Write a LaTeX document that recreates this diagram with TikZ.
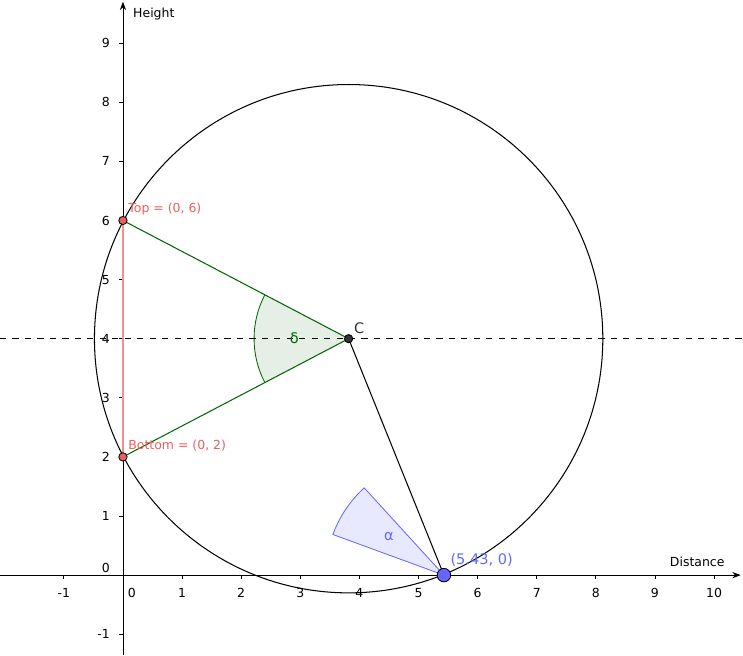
\documentclass[tikz,border=0pt]{standalone}
\usepackage{fontspec}
\setmainfont{DejaVu Sans}
\usetikzlibrary{arrows.meta}
\definecolor{redp}{HTML}{E86060}
\definecolor{bluep}{HTML}{6666FF}
\definecolor{greenl}{HTML}{006600}
\begin{document}
\begin{tikzpicture}[font=\fontsize{6}{7}\selectfont,
  axis/.style={line width=0.4pt,-{Stealth[length=4pt,width=3pt]}},
  tick/.style={line width=0.4pt},
  pt/.style={circle,draw=black,line width=0.4pt,inner sep=0pt,minimum size=4pt}]
\useasboundingbox (-2.08,-1.354) rectangle (10.49,9.73);
\pgfmathsetmacro{\cx}{3.818}
\coordinate (C) at (\cx,4);
\coordinate (T) at (0,6);
\coordinate (B) at (0,2);
\coordinate (P) at (5.43,0);
% delta sector
\fill[greenl,fill opacity=0.1] (C) -- ++(152.4:1.6) arc (152.4:207.6:1.6) -- cycle;
\draw[greenl,line width=0.4pt] (C) ++(152.4:1.6) arc (152.4:207.6:1.6);
% alpha sector
\filldraw[bluep,fill opacity=0.15,draw opacity=1,line width=0.4pt] (P) -- ++(132.4:2) arc (132.4:159.9:2) -- cycle;
% axes
\draw[axis] (-2.08,0) -- (10.45,0) coordinate (xe);
\draw[axis] (0,-1.354) -- (0,9.7) coordinate (ye);
\node[anchor=south east] at (10.3,0.02) {Distance};
\node[anchor=west] at (0.05,9.5) {Height};
\foreach \x in {-1,1,2,...,10}{
  \draw[tick] (\x,0) -- (\x,-0.07);
  \node[anchor=north] at (\x,-0.1) {\x};}
\node[anchor=north] at (0.15,-0.1) {0};
\foreach \y in {-1,1,2,...,9}{
  \draw[tick] (0,\y) -- (-0.07,\y);
  \node[anchor=east] at (-0.1,\y) {\y};}
\node[anchor=east] at (-0.1,0.12) {0};
% dashed
\draw[dashed,line width=0.4pt] (-2.08,4) -- (10.49,4);
% circle
\draw[line width=0.5pt] (C) circle (4.3);
% segments
\draw[redp!70,line width=0.6pt] (T) -- (B);
\draw[greenl,line width=0.5pt] (T) -- (C) -- (B);
\draw[line width=0.5pt] (C) -- (P);
% points
\node[pt,fill=redp] (nT) at (T) {};
\node[pt,fill=redp] (nB) at (B) {};
\node[pt,fill=black!80] (nC) at (C) {};
\node[pt,fill=bluep,minimum size=6.5pt] (nP) at (P) {};
% labels
\node[redp,anchor=south west,inner sep=1pt] at (0.05,6.05) {Top = (0, 6)};
\node[redp,anchor=south west,inner sep=1pt] at (0.05,2.05) {Bottom = (0, 2)};
\node[black!80,anchor=south west,inner sep=1pt] at (\cx+0.05,4.05) {\fontsize{7}{8}\selectfont C};
\node[bluep,anchor=south west,inner sep=1pt] at (5.5,0.1) {\fontsize{7}{8}\selectfont (5.43, 0)};
\node[greenl] at (2.9,4) {\fontsize{7}{8}\selectfont δ};
\node[bluep] at (4.5,0.65) {\fontsize{7}{8}\selectfont α};
\end{tikzpicture}
\end{document}
